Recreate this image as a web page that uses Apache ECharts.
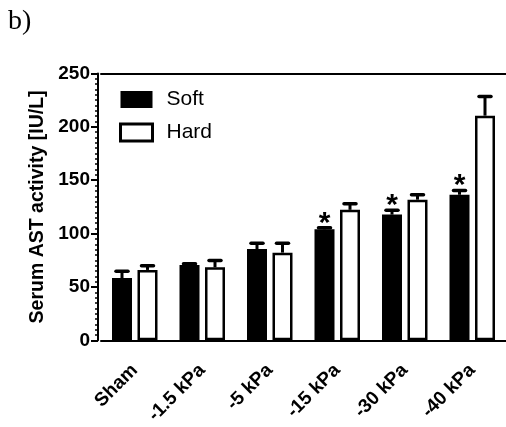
<!DOCTYPE html>
<html>
<head>
<meta charset="utf-8">
<script src="https://cdn.jsdelivr.net/npm/echarts@6/dist/echarts.min.js"></script>
<style>
  html, body { margin: 0; padding: 0; background: #fff; }
  #chart { width: 506px; height: 427px; }
</style>
</head>
<body>
<div id="chart"></div>
<script>
// Serum AST activity by suction pressure, soft vs hard tissue
const categories = ['Sham', '-1.5 kPa', '-5 kPa', '-15 kPa', '-30 kPa', '-40 kPa'];
const softMean = [58.4, 70.5, 85.6, 104, 117.8, 136.4];
const softSem = [6.3, 1.2, 5.3, 1.5, 4.0, 4.0];
const hardMean = [66, 68.5, 82.2, 122.3, 131.8, 210.5];
const hardSem = [3.8, 6.4, 8.7, 5.7, 4.6, 18];
const softSignificance = ['', '', '', '*', '*', '*'];
const yTicks = { min: 0, max: 250, interval: 50 };

const FONT = 'Liberation Sans, Arial, sans-serif';
const BAR_W = 20;
const BAR_GAP = 0.275;           // fraction of bar width between paired bars
const pairOffset = (BAR_W + BAR_W * BAR_GAP) / 2;

const chart = echarts.init(document.getElementById('chart'));

// Upper SEM whisker with cap, plus an optional significance mark above it
function errorRenderer(offsetSign) {
  return function (params, api) {
    const idx = api.value(0);
    const mean = api.value(1);
    const sem = api.value(2);
    const mark = api.value(3);
    const base = api.coord([idx, mean]);
    const top = api.coord([idx, mean + sem]);
    const x = base[0] + offsetSign * pairOffset;
    const children = [
      { type: 'line', shape: { x1: x, y1: base[1], x2: x, y2: top[1] },
        style: { stroke: '#000', lineWidth: 3 } },
      { type: 'line', shape: { x1: x - 6, y1: top[1], x2: x + 6, y2: top[1] },
        style: { stroke: '#000', lineWidth: 3.5, lineCap: 'round' } }
    ];
    if (mark) {
      children.push({ type: 'text', x: x, y: top[1] - 4.5,
        style: { text: mark, fill: '#000', font: 'bold 30px ' + FONT,
                 align: 'center', verticalAlign: 'middle' } });
    }
    return { type: 'group', children: children };
  };
}

const softErrData = categories.map((c, i) => [i, softMean[i], softSem[i], softSignificance[i]]);
const hardErrData = categories.map((c, i) => [i, hardMean[i], hardSem[i], '']);

chart.setOption({
  animation: false,
  backgroundColor: '#fff',
  graphic: [{
    type: 'text', left: 8, top: 8,
    style: { text: 'b)', fill: '#000', font: '28px Liberation Serif, Times New Roman, serif' }
  }],
  grid: { left: 101, right: -1, top: 73.5, bottom: 84, containLabel: false },
  legend: {
    orient: 'vertical', left: 114, top: 84,
    itemWidth: 32, itemHeight: 17, itemGap: 12,
    icon: 'rect',
    textStyle: { fontFamily: FONT, fontSize: 21, color: '#000', padding: [0, 0, 0, 9] },
    data: [
      { name: 'Soft' },
      { name: 'Hard', itemStyle: { color: '#fff', borderColor: '#000', borderWidth: 3 } }
    ]
  },
  xAxis: [{
    type: 'category', data: categories, position: 'bottom',
    axisLine: { lineStyle: { color: '#000', width: 2 } },
    axisTick: { alignWithLabel: true, length: 10, lineStyle: { color: '#000', width: 2 } },
    axisLabel: { rotate: 45, margin: 27, color: '#000', fontFamily: FONT,
                 fontWeight: 'bold', fontSize: 19 }
  }, {
    type: 'category', data: categories, position: 'top',
    axisLine: { lineStyle: { color: '#000', width: 2 } },
    axisTick: { show: false }, axisLabel: { show: false }
  }],
  yAxis: {
    type: 'value', min: yTicks.min, max: yTicks.max, interval: yTicks.interval,
    offset: 3,
    name: 'Serum AST activity [IU/L]', nameLocation: 'middle', nameGap: 45,
    nameTextStyle: { fontFamily: FONT, fontWeight: 'bold', fontSize: 19.5, color: '#000' },
    axisLine: { show: true, lineStyle: { color: '#000', width: 2 } },
    axisTick: { show: true, length: 7, lineStyle: { color: '#000', width: 2 } },
    minorTick: { show: true, splitNumber: 10, length: 3, lineStyle: { color: '#000', width: 1.5 } },
    splitLine: { show: false },
    axisLabel: { margin: 8, color: '#000', fontFamily: FONT, fontWeight: 'bold', fontSize: 19 }
  },
  series: [{
    name: 'Soft', type: 'bar', data: softMean,
    barWidth: BAR_W, barGap: (BAR_GAP * 100) + '%',
    itemStyle: { color: '#000' }, z: 2
  }, {
    name: 'Hard', type: 'bar', data: hardMean,
    barWidth: BAR_W, barGap: (BAR_GAP * 100) + '%',
    itemStyle: { color: '#fff', borderColor: '#000', borderWidth: 2.5 }, z: 2
  }, {
    type: 'custom', renderItem: errorRenderer(-1), data: softErrData,
    encode: { x: 0, y: [1, 2] }, z: 3, silent: true
  }, {
    type: 'custom', renderItem: errorRenderer(1), data: hardErrData,
    encode: { x: 0, y: [1, 2] }, z: 3, silent: true
  }]
});
</script>
</body>
</html>
